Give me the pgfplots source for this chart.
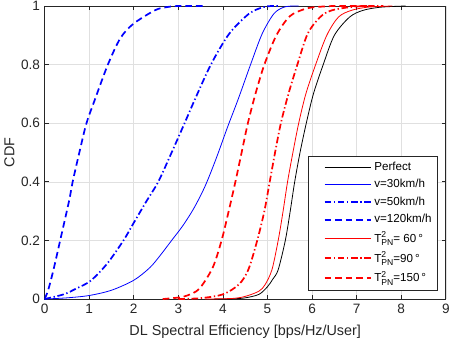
\documentclass[border=0pt]{standalone}
\usepackage{pgfplots}
\pgfplotsset{compat=1.18}
\usepackage{fontspec}
\setmainfont{Liberation Sans}
\definecolor{axgray}{gray}{0.15}
\definecolor{gridgray}{gray}{0.88}
\newcommand{\TPN}{T\makebox[0pt][l]{\raisebox{0.75ex}{\fontsize{6.5}{7}\selectfont 2}}\raisebox{-0.55ex}{\fontsize{6.5}{7}\selectfont PN}}
\begin{document}
\begin{tikzpicture}
\begin{axis}[
  scale only axis,
  width=304pt, height=222pt,
  xmin=0, xmax=9, ymin=0, ymax=1,
  xtick={0,1,...,9},
  ytick={0,0.2,0.4,0.6,0.8,1},
  yticklabels={0,0.2,0.4,0.6,0.8,1},
  grid=major,
  major grid style={gridgray, line width=0.4pt},
  axis line style={axgray, line width=0.5pt},
  tick style={axgray, line width=0.5pt},
  tick align=inside,
  major tick length=3pt,
  tick label style={font=\fontsize{10.3}{12}\selectfont, text=axgray},
  yticklabel style={inner ysep=1pt},
  /pgf/number format/assume math mode=true,
  label style={font=\fontsize{10.9}{13}\selectfont, text=axgray},
  xlabel={DL Spectral Efficiency [bps/Hz/User]},
  ylabel={CDF},
  xlabel style={yshift=-2pt},
  ylabel style={yshift=-2pt},
  legend style={at={(0.980,0.03)}, anchor=south east, draw=axgray, line width=0.5pt,
    fill=white, font=\fontsize{8.8}{10}\selectfont, inner sep=2.5pt, row sep=1.4pt,
    cells={anchor=west}},
  legend image code/.code={\draw[#1, shorten <=9pt] (0pt,0pt) -- (44pt,0pt);},
]
% Perfect
\addplot[black, line width=0.6pt, smooth] coordinates {
(3.8,0) (4.2,0.0005) (4.5,0.004) (4.81,0.016) (5.0,0.042) (5.12,0.068) (5.24,0.1) (5.40,0.2) (5.51,0.3) (5.61,0.4) (5.73,0.5) (5.87,0.6) (6.03,0.7) (6.25,0.8) (6.50,0.9) (6.84,0.962) (7.14,0.985) (7.54,0.996) (8.1,1)};
\addlegendentry{Perfect}
% v=30
\addplot[blue, line width=0.6pt, smooth] coordinates {
(0,0) (0.5,0.004) (1,0.012) (1.5,0.03) (2,0.064) (2.36,0.107) (2.6,0.15) (2.85,0.2) (3.1,0.25) (3.35,0.31) (3.6,0.385) (3.85,0.48) (4.1,0.585) (4.35,0.685) (4.62,0.8) (4.88,0.905) (5.14,0.973) (5.35,0.995) (5.55,1) (5.7,1)};
\addlegendentry{v=30km/h}
% v=50
\addplot[blue, line width=1.3pt, dash pattern=on 5pt off 2pt on 1pt off 2pt, smooth] coordinates {
(0,0) (0.43,0.016) (0.7,0.035) (1.03,0.062) (1.4,0.12) (1.77,0.2) (2.0,0.26) (2.29,0.335) (2.55,0.4) (2.85,0.5) (3.14,0.6) (3.36,0.677) (3.73,0.8) (4.14,0.905) (4.58,0.973) (4.9,0.996) (5.1,1) (5.25,1)};
\addlegendentry{v=50km/h}
% v=120
\addplot[blue, line width=1.3pt, dash pattern=on 5pt off 3pt, smooth] coordinates {
(0,0) (0.08,0.03) (0.2,0.1) (0.35,0.2) (0.55,0.335) (0.63,0.4) (0.78,0.5) (0.94,0.6) (1.12,0.677) (1.42,0.80) (1.7,0.89) (1.99,0.939) (2.47,0.985) (2.73,0.996) (3.0,1.0) (3.6,1.0)};
\addlegendentry{v=120km/h}
% T=60
\addplot[red, line width=0.6pt, smooth] coordinates {
(3.6,0) (4.21,0.002) (4.5,0.009) (4.81,0.027) (4.95,0.05) (5.10,0.1) (5.24,0.2) (5.35,0.3) (5.45,0.4) (5.57,0.5) (5.70,0.6) (5.86,0.7) (6.08,0.8) (6.33,0.9) (6.59,0.962) (6.88,0.985) (7.25,0.996) (7.8,1)};
\addlegendentry{\TPN= 60\,°}
% T=90
\addplot[red, line width=1.3pt, dash pattern=on 5pt off 2pt on 1pt off 2pt, smooth] coordinates {
(3.0,0) (3.5,0.003) (4.0,0.016) (4.36,0.05) (4.57,0.1) (4.77,0.2) (4.93,0.3) (5.05,0.4) (5.17,0.5) (5.30,0.6) (5.47,0.7) (5.67,0.8) (5.90,0.905) (6.18,0.962) (6.44,0.985) (6.96,0.998) (7.6,1)};
\addlegendentry{\TPN=90\,°}
% T=150
\addplot[red, line width=1.3pt, dash pattern=on 5pt off 3pt, smooth] coordinates {
(2.65,0) (3.0,0.005) (3.2,0.012) (3.47,0.035) (3.77,0.107) (3.97,0.2) (4.13,0.3) (4.28,0.4) (4.42,0.5) (4.56,0.6) (4.73,0.7) (4.93,0.8) (5.20,0.9) (5.5,0.965) (5.84,0.99) (6.07,0.996) (6.5,1) (7.4,1)};
\addlegendentry{\TPN=150\,°}
\end{axis}
\end{tikzpicture}
\end{document}
